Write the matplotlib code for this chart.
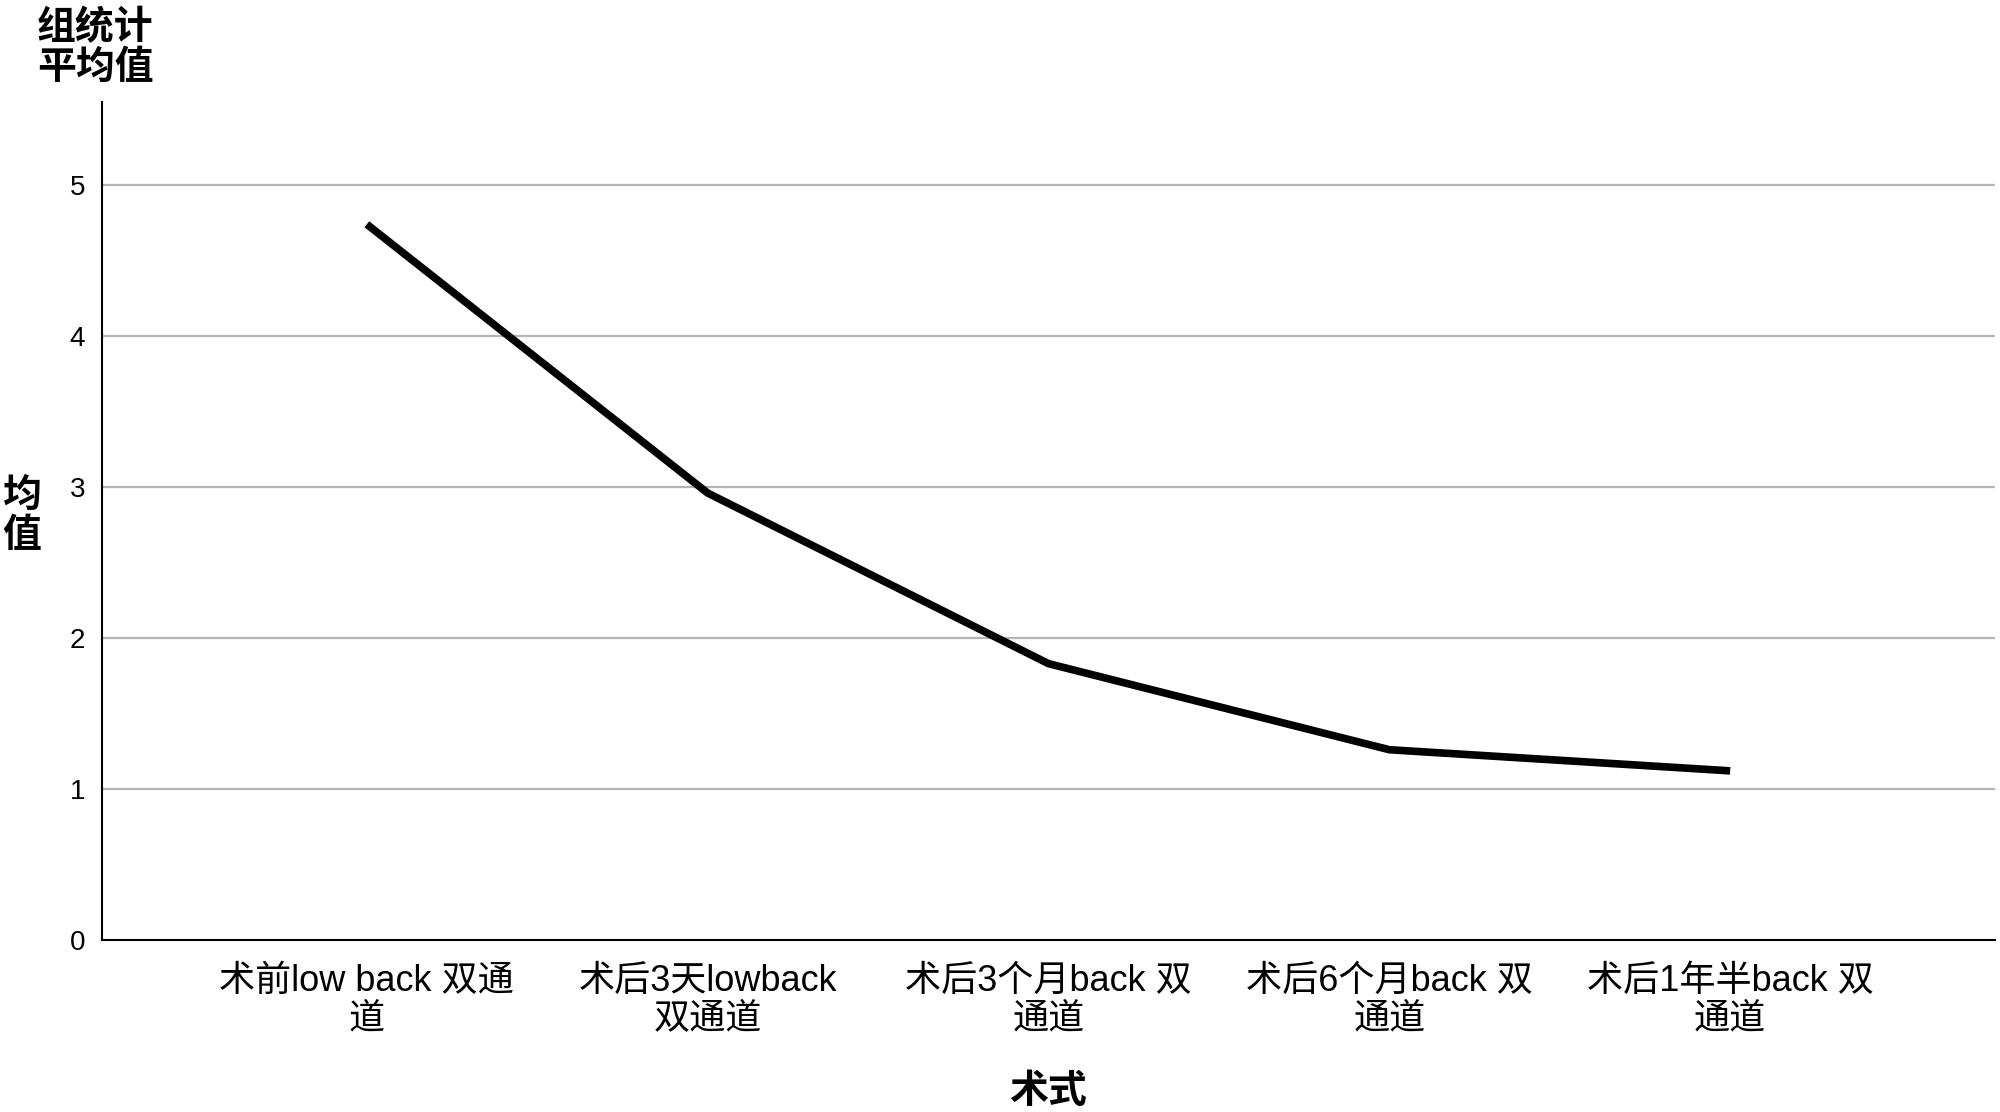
import numpy as np
import matplotlib.pyplot as plt

# data
categories = ["术前low back 双通\n道", "术后3天lowback\n双通道", "术后3个月back 双\n通道",
              "术后6个月back 双\n通道", "术后1年半back 双\n通道"]
means = [4.74, 2.96, 1.83, 1.26, 1.12]
yticks = [0, 1, 2, 3, 4, 5]

fam = ['Liberation Sans', 'Noto Sans CJK SC']
plt.rcParams['font.family'] = fam

fig = plt.figure(figsize=(20, 11.12), dpi=100)
ax = fig.add_axes([0.051, 0.1547, 0.9465, 0.7536])

x = np.arange(len(categories))
for v in yticks[1:]:
    ax.axhline(v, color='#b4b4b4', lw=1.6, zorder=1)
ax.plot(x, means, color='black', lw=5.5, solid_capstyle='butt', zorder=3)

ax.set_xlim(-0.777, len(categories) - 1 + 0.777)
ax.set_ylim(0, 5.55)
ax.set_xticks(x)
ax.set_xticklabels(categories, fontsize=26, linespacing=1.1)
ax.set_yticks(yticks)
ax.set_yticklabels([str(t) for t in yticks], fontsize=20)
ax.tick_params(axis='both', length=0)
ax.tick_params(axis='x', pad=17)
ax.tick_params(axis='y', pad=12)

for s in ['top', 'right']:
    ax.spines[s].set_visible(False)
for s in ['left', 'bottom']:
    ax.spines[s].set_linewidth(1.5)
    ax.spines[s].set_color('black')

fig.text(0.0475, 0.991, "组统计\n平均值", fontsize=28, fontweight='bold', ha='center', va='top',
         linespacing=1.12, family=fam)
fig.text(0.011, 0.535, "均\n值", fontsize=28, fontweight='bold', ha='center', va='center',
         linespacing=1.12, family=fam)
fig.text(0.524, 0.017, "术式", fontsize=28, fontweight='bold', ha='center', va='center', family=fam)

fig.savefig("out.png", dpi=100)
